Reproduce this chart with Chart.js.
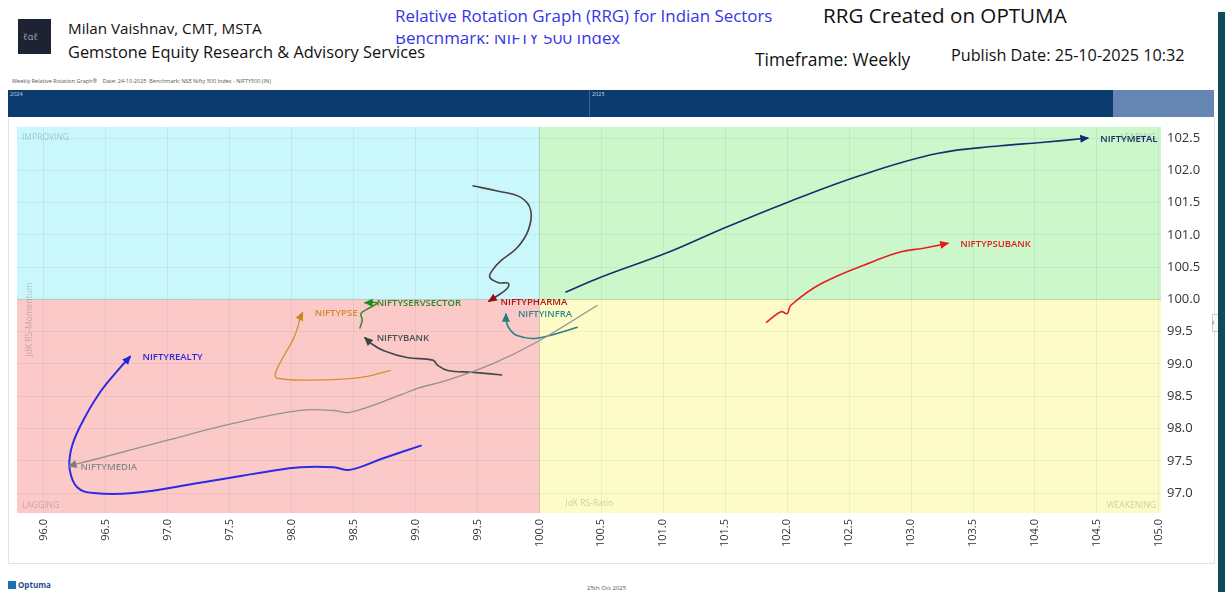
<!DOCTYPE html>
<html>
<head>
<meta charset="utf-8">
<script src="https://cdn.jsdelivr.net/npm/chart.js@4.4.1/dist/chart.umd.min.js"></script>
<style>
  body { margin: 0; width: 1225px; height: 592px; background: #fff; overflow: hidden; position: relative; font-family: "Open Sans", sans-serif; }
  .t { position: absolute; white-space: nowrap; line-height: 1; }
  #chartBox { position: absolute; left: 8px; top: 117px; width: 1205px; height: 446px; border: 1px solid #e2e2e2; border-top: none; }
  #rrg { position: absolute; left: 9px; top: 113px; }
  #nav { position: absolute; left: 8px; top: 90px; width: 1105px; height: 27px; background: #0c3b6f; }
  #navR { position: absolute; left: 1113px; top: 90px; width: 101px; height: 27px; background: #6585b3; }
</style>
</head>
<body>
<div style="position:absolute;left:18px;top:19px;width:33px;height:35px;background:#1d2333;"></div>
<div class="t" style="left:23px;top:32px;font-size:9px;color:#aab;">ℓαℓ</div>
<div class="t" style="left:68px;top:21px;font-size:15.2px;color:#111;">Milan Vaishnav, CMT, MSTA</div>
<div class="t" style="left:68px;top:44px;font-size:16.4px;color:#111;">Gemstone Equity Research &amp; Advisory Services</div>
<div class="t" style="left:395px;top:8px;font-size:16.9px;color:#3535e6;">Relative Rotation Graph (RRG) for Indian Sectors</div>
<div style="position:absolute;left:395px;top:35px;width:260px;height:17px;overflow:hidden;">
  <div class="t" style="left:0;top:-5px;font-size:16.9px;color:#3535e6;">Benchmark: NIFTY 500 Index</div>
</div>
<div id="nav"></div>
<div id="navR"></div>
<div id="chartBox"></div>
<canvas id="rrg" width="1205" height="452"></canvas>
<div class="t" style="left:823px;top:5px;font-size:20.6px;color:#111;">RRG Created on OPTUMA</div>
<div class="t" style="left:755px;top:51px;font-size:17.4px;color:#111;">Timeframe: Weekly</div>
<div class="t" style="left:951px;top:47px;font-size:16.2px;color:#111;">Publish Date: 25-10-2025 10:32</div>
<div class="t" style="left:12px;top:79px;font-size:5.5px;color:#555;">Weekly Relative Rotation Graph®&nbsp;&nbsp;&nbsp; Date: 24-10-2025&nbsp; Benchmark: NSE Nifty 500 Index - NIFTY500 (IN)</div>
<div style="position:absolute;left:589px;top:90px;width:1px;height:27px;background:#3b6496;"></div>
<div class="t" style="left:10px;top:92px;font-size:5.5px;color:#c8d4e6;">2024</div>
<div class="t" style="left:592px;top:92px;font-size:5.5px;color:#c8d4e6;">2025</div>
<div style="position:absolute;left:1212px;top:314px;width:6px;height:16px;border:1px solid #ccc;background:#fafafa;"></div>
<div class="t" style="left:1212px;top:317px;font-size:9px;color:#777;">‹</div>
<div style="position:absolute;left:1218px;top:12px;width:7px;height:580px;background:#0e4b5b;"></div>
<div style="position:absolute;left:8px;top:581px;width:8px;height:8px;background:#1f6fb5;"></div>
<div class="t" style="left:18px;top:581px;font-size:8px;color:#1f4f8f;font-weight:bold;">Optuma</div>
<div class="t" style="left:587px;top:585px;font-size:6px;color:#555;">25th Oct 2025</div>
<script>
// tick labels
const xTicks = [96.0, 96.5, 97.0, 97.5, 98.0, 98.5, 99.0, 99.5, 100.0, 100.5, 101.0, 101.5, 102.0, 102.5, 103.0, 103.5, 104.0, 104.5, 105.0];
const yTicks = [97.0, 97.5, 98.0, 98.5, 99.0, 99.5, 100.0, 100.5, 101.0, 101.5, 102.0, 102.5];

// tails: [JdK RS-Ratio, JdK RS-Momentum], oldest first, head last
const NIFTYMETAL = [[100.21,100.11],[100.49,100.34],[101.04,100.73],[101.46,101.08],[101.97,101.48],[102.59,101.92],[103.21,102.26],[103.72,102.38],[104.05,102.43],[104.43,102.50]];
const NIFTYPSUBANK = [[101.83,99.64],[101.95,99.81],[102.00,99.78],[102.03,99.91],[102.28,100.25],[102.71,100.60],[102.92,100.74],[103.09,100.79],[103.30,100.87]];
const NIFTYPHARMA = [[99.46,101.76],[99.66,101.68],[99.85,101.58],[99.93,101.38],[99.91,101.07],[99.82,100.80],[99.69,100.60],[99.62,100.45],[99.60,100.34],[99.67,100.26],[99.75,100.25],[99.74,100.17],[99.64,100.03],[99.59,99.97]];
const NIFTYSERVSECTOR = [[98.55,99.55],[98.57,99.68],[98.56,99.78],[98.61,99.85],[98.67,99.91],[98.69,99.95],[98.59,99.95]];
const NIFTYPSE = [[98.80,98.90],[98.55,98.79],[98.15,98.75],[97.88,98.78],[97.87,98.86],[97.93,99.10],[98.01,99.37],[98.05,99.57],[98.07,99.72],[98.09,99.80]];
const NIFTYBANK = [[99.70,98.83],[99.47,98.87],[99.26,98.90],[99.18,98.98],[99.14,99.06],[98.93,99.10],[98.74,99.21],[98.64,99.32],[98.59,99.41]];
const NIFTYINFRA = [[100.31,99.57],[99.98,99.40],[99.82,99.44],[99.75,99.57],[99.73,99.71],[99.73,99.78]];
const NIFTYMEDIA = [[100.47,99.91],[99.98,99.34],[99.63,99.01],[99.26,98.75],[99.01,98.62],[98.88,98.52],[98.47,98.25],[98.34,98.28],[98.07,98.28],[97.53,98.08],[97.00,97.82],[96.45,97.54],[96.20,97.42]];
const NIFTYREALTY = [[99.05,97.74],[98.74,97.54],[98.47,97.36],[98.34,97.40],[98.07,97.40],[97.80,97.33],[97.26,97.16],[96.72,97.00],[96.40,97.00],[96.27,97.09],[96.21,97.36],[96.22,97.67],[96.29,98.02],[96.45,98.55],[96.62,98.95],[96.70,99.12]];

function pts(arr) {
    return arr.map(p => ({ x: p[0], y: p[1] }));
}

function tail(name, arr, line, arrow, text, width) {
    return {
        label: name,
        data: pts(arr),
        borderColor: line,
        borderWidth: width,
        arrowColor: arrow,
        textColor: text,
        showLine: true,
        pointRadius: 0,
        tension: 0.4,
        fill: false
    };
}

const quadrants = {
    id: 'quadrants',
    beforeDatasetsDraw(chart) {
        const { ctx, chartArea: a, scales } = chart;
        const cx = scales.x.getPixelForValue(100);
        const cy = scales.y.getPixelForValue(100);
        ctx.save();
        ctx.globalCompositeOperation = 'destination-over';
        ctx.fillStyle = '#c9f7fb'; ctx.fillRect(a.left, a.top, cx - a.left, cy - a.top);
        ctx.fillStyle = '#cbf7cb'; ctx.fillRect(cx, a.top, a.right - cx, cy - a.top);
        ctx.fillStyle = '#fcc9c9'; ctx.fillRect(a.left, cy, cx - a.left, a.bottom - cy);
        ctx.fillStyle = '#fdfcc9'; ctx.fillRect(cx, cy, a.right - cx, a.bottom - cy);
        ctx.restore();

        ctx.save();
        ctx.strokeStyle = 'rgba(0,0,0,0.12)';
        ctx.lineWidth = 1;
        ctx.beginPath();
        ctx.moveTo(cx, a.top); ctx.lineTo(cx, a.bottom);
        ctx.moveTo(a.left, cy); ctx.lineTo(a.right, cy);
        ctx.stroke();

        ctx.fillStyle = 'rgba(0,0,0,0.2)';
        ctx.font = '8.5px "Open Sans"';
        ctx.textBaseline = 'middle';
        ctx.textAlign = 'left';
        ctx.fillText('IMPROVING', a.left + 5, a.top + 11);
        ctx.fillText('LAGGING', a.left + 5, a.bottom - 7);
        ctx.fillText('JdK RS-Ratio', cx + 26, a.bottom - 9);
        ctx.textAlign = 'right';
        ctx.fillText('LEADING', a.right - 5, a.top + 11);
        ctx.fillText('WEAKENING', a.right - 5, a.bottom - 7);
        ctx.translate(a.left + 13, cy + 20);
        ctx.rotate(-Math.PI / 2);
        ctx.textAlign = 'center';
        ctx.fillText('JdK RS-Momentum', 0, 0);
        ctx.restore();
    }
};

const heads = {
    id: 'heads',
    afterDatasetsDraw(chart) {
        const ctx = chart.ctx;
        chart.data.datasets.forEach((ds, i) => {
            const p = chart.getDatasetMeta(i).data;
            const last = p[p.length - 1];
            const prev = p[p.length - 2];
            const ang = Math.atan2(last.y - prev.y, last.x - prev.x);
            ctx.save();
            ctx.translate(last.x, last.y);
            ctx.rotate(ang);
            ctx.fillStyle = ds.arrowColor;
            ctx.beginPath();
            ctx.moveTo(1, 0);
            ctx.lineTo(-8, -4);
            ctx.lineTo(-8, 4);
            ctx.closePath();
            ctx.fill();
            ctx.restore();

            ctx.save();
            ctx.fillStyle = ds.textColor;
            ctx.font = '600 9.5px "Open Sans"';
            ctx.textBaseline = 'middle';
            ctx.fillText(ds.label, last.x + 12, last.y + 1);
            ctx.restore();
        });
    }
};

const data = {
    datasets: [
        tail('NIFTYMEDIA', NIFTYMEDIA, '#929292', '#7e7e7e', '#8a8a8a', 1.3),
        tail('NIFTYREALTY', NIFTYREALTY, '#2b2be6', '#2222dd', '#2a2ae0', 2),
        tail('NIFTYPSE', NIFTYPSE, '#d49032', '#c8861e', '#d08a30', 1.3),
        tail('NIFTYBANK', NIFTYBANK, '#404a4a', '#3a4444', '#4a5050', 1.6),
        tail('NIFTYINFRA', NIFTYINFRA, '#268585', '#1f7f7f', '#2a8a8a', 1.6),
        tail('NIFTYSERVSECTOR', NIFTYSERVSECTOR, '#2e8b2e', '#1f8a1f', '#2a8a2a', 1.5),
        tail('NIFTYPHARMA', NIFTYPHARMA, '#4a4040', '#990f0f', '#a81616', 1.6),
        tail('NIFTYPSUBANK', NIFTYPSUBANK, '#e52020', '#e41a1a', '#e02020', 1.6),
        tail('NIFTYMETAL', NIFTYMETAL, '#1b2c6e', '#142a72', '#1a2a6a', 1.6)
    ]
};

const config = {
    type: 'scatter',
    data: data,
    plugins: [quadrants, heads],
    options: {
        responsive: false,
        animation: false,
        devicePixelRatio: 1,
        layout: { padding: { left: 8, top: 8, right: 0, bottom: 0 } },
        plugins: { legend: { display: false }, tooltip: { enabled: false } },
        scales: {
            x: {
                type: 'linear',
                position: 'bottom',
                min: 95.784,
                max: 105.017,
                afterBuildTicks: axis => { axis.ticks = xTicks.map(v => ({ value: v })); },
                afterFit: axis => { axis.height = 52; },
                grid: { color: 'rgba(0,0,0,0.05)', drawTicks: false },
                border: { display: false },
                ticks: {
                    minRotation: 90,
                    maxRotation: 90,
                    padding: 6,
                    color: '#333',
                    font: { family: 'Open Sans', size: 11 },
                    callback: v => v.toFixed(1)
                }
            },
            y: {
                type: 'linear',
                position: 'right',
                min: 96.692,
                max: 102.674,
                afterBuildTicks: axis => { axis.ticks = yTicks.map(v => ({ value: v })); },
                afterFit: axis => { axis.width = 53; },
                grid: { color: 'rgba(0,0,0,0.05)', drawTicks: false },
                border: { display: false },
                ticks: {
                    padding: 6,
                    color: '#333',
                    font: { family: 'Open Sans', size: 13 },
                    callback: v => v.toFixed(1)
                }
            }
        }
    }
};

new Chart(document.getElementById('rrg'), config);
</script>
</body>
</html>
